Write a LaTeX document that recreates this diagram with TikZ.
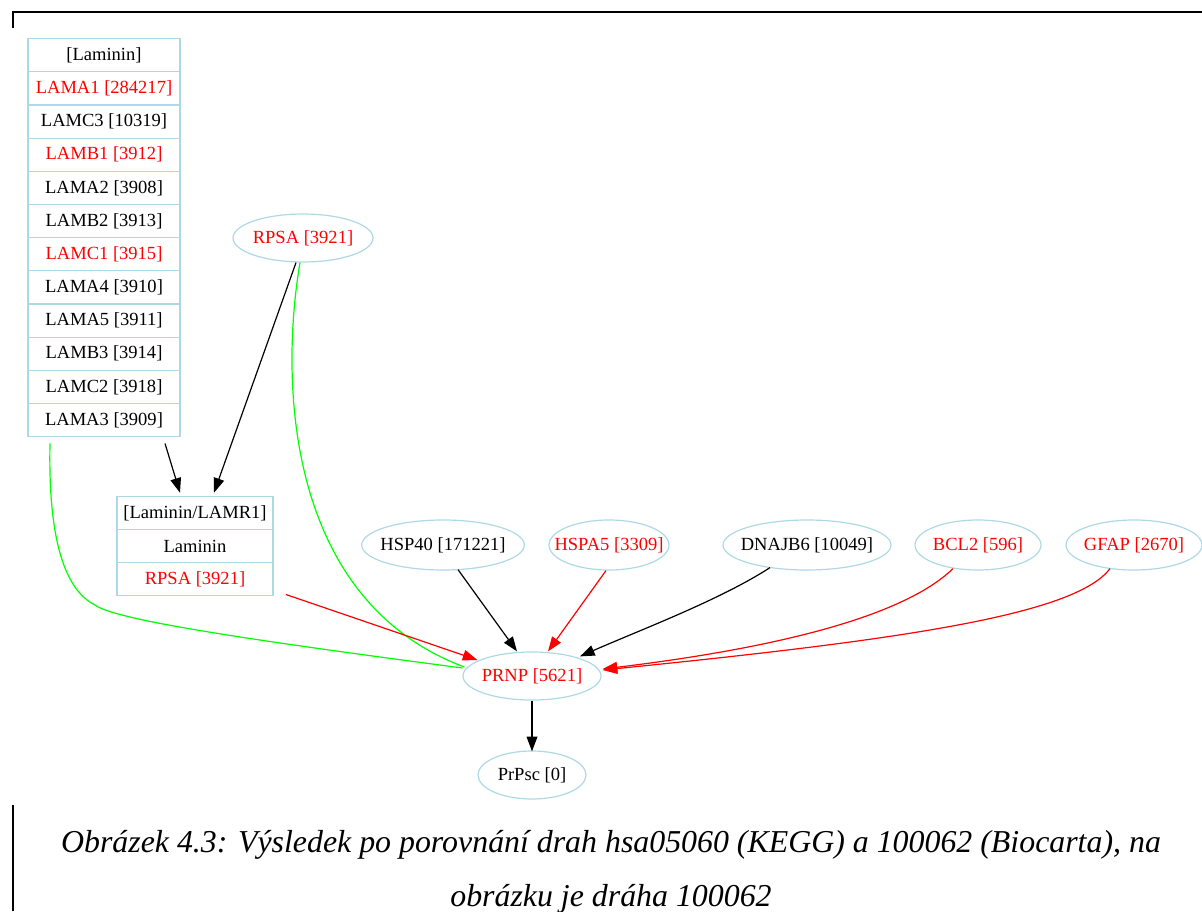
\documentclass[tikz,border=0pt]{standalone}
\usepackage{fontspec}
\setmainfont{Liberation Serif}
\usetikzlibrary{shapes.geometric,arrows.meta,calc,fit}
\definecolor{gvblue}{HTML}{ADD8E6}
\definecolor{gvred}{HTML}{FF0000}
\definecolor{gvgreen}{HTML}{00FF00}
% label box of zero width, so that an ellipse takes its size from its minimum dimensions only
\newcommand\glabel[1]{\makebox[0pt]{#1}}
\begin{document}
\begin{tikzpicture}[x=0.75pt,y=-0.75pt,
  lbl/.style={font=\fontsize{13.9}{16}\selectfont},
  gene/.style={ellipse, draw=gvblue, line width=0.9pt, inner sep=0pt, lbl},
  cell/.style={rectangle, draw=gvblue, line width=0.9pt, inner sep=0pt,
    minimum width=114pt, minimum height=24.875pt, anchor=north, lbl},
  rcell/.style={cell, minimum width=117pt, minimum height=24.75pt},
  hit/.style={text=gvred},
  link/.style={line width=0.9pt, -{Triangle[length=11pt,width=8pt]}},
  plain/.style={line width=0.9pt, gvgreen},
  frame/.style={line width=1.5pt, black},
  captext/.style={font=\fontsize{23.9}{28}\selectfont\itshape, anchor=base},
]
\useasboundingbox (0,0) rectangle (1202,911);

% page frame fragments
\draw[frame] (13,28) -- (13,12) -- (1202,12);
\draw[frame] (13,805) -- (13,911);

% laminin complex table
\foreach \t/\c [count=\i from 0] in {{[Laminin]}/black,LAMA1 [284217]/gvred,LAMC3 [10319]/black,LAMB1 [3912]/gvred,LAMA2 [3908]/black,LAMB2 [3913]/black,LAMC1 [3915]/gvred,LAMA4 [3910]/black,LAMA5 [3911]/black,LAMB3 [3914]/black,LAMC2 [3918]/black,LAMA3 [3909]/black}{
  \node[cell,text=\c] (lam\i) at (104,{38+33.1667*\i}) {\t};
}
\node[fit=(lam0)(lam11), inner sep=0pt] (lam) {};

% laminin/LAMR1 complex table
\node[rcell] (lamr0) at (195,496) {[Laminin/LAMR1]};
\node[rcell] (lamr1) at (195,529) {Laminin};
\node[rcell,hit] (lamr2) at (195,562) {RPSA [3921]};
\node[fit=(lamr0)(lamr2), inner sep=0pt] (lamr) {};

% gene nodes
\node[gene,hit,minimum width=105pt,minimum height=36pt] (rpsa) at (303,238) {\glabel{RPSA [3921]}};
\node[gene,minimum width=122pt,minimum height=37.5pt] (hsp40) at (443,545) {\glabel{HSP40 [171221]}};
\node[gene,hit,minimum width=90pt,minimum height=37.5pt] (hspa5) at (609,545) {\glabel{HSPA5 [3309]}};
\node[gene,minimum width=126pt,minimum height=37.5pt] (dnajb6) at (807,545) {\glabel{DNAJB6 [10049]}};
\node[gene,hit,minimum width=94.5pt,minimum height=37.5pt] (bcl2) at (978,545) {\glabel{BCL2 [596]}};
\node[gene,hit,minimum width=102pt,minimum height=37.5pt] (gfap) at (1134,545) {\glabel{GFAP [2670]}};
\node[gene,hit,minimum width=103.5pt,minimum height=36pt] (prnp) at (532,676) {\glabel{PRNP [5621]}};
\node[gene,minimum width=81pt,minimum height=36pt] (prpsc) at (532,775) {\glabel{PrPsc [0]}};

% connectors
\draw[link] ($(lam.south)+(61,6)$) -- ($(lamr.north)+(-15,-3)$);
\draw[link] ($(rpsa.south)+(-7,0)$) -- ($(lamr.north)+(19,-3)$);
\draw[plain] ($(rpsa.south)+(-3,0)$) .. controls (280,380) and (285,600) .. ($(prnp.west)+(2,-9)$);
\draw[plain] ($(lam.south)+(-54,6)$) .. controls (48,540) and (65,590) .. (95,605)
  .. controls (115,620) and (250,640) .. ($(prnp.west)+(0,-8)$);
\draw[link,gvred] ($(lamr.south east)+(12,-2)$) -- ($(prnp.west)+(15,-16)$);
\draw[link] ($(hsp40.south)+(15,-1)$) -- ($(prnp.north)+(-15,0)$);
\draw[link,gvred] ($(hspa5.south)+(-3,0)$) -- ($(prnp.north)+(16,0)$);
\draw[link] ($(dnajb6.south)+(-37,-3)$) .. controls (720,600) and (640,630) .. ($(prnp.north)+(48,5)$);
\draw[link,gvred] ($(bcl2.south)+(-25,-2)$) .. controls (900,620) and (760,650) .. ($(prnp.east)+(1,-7)$);
\draw[link,gvred] ($(gfap.south)+(-24,-2)$) .. controls (1075,615) and (900,640) .. ($(prnp.east)+(1,-6)$);
\draw[link] (prnp.south) -- ($(prpsc.north)+(0,1)$);

% caption
\node[captext] (cap1) at (611,852) {Obrázek 4.3: Výsledek po porovnání drah hsa05060 (KEGG) a 100062 (Biocarta), na};
\node[captext] (cap2) at (611,906) {obrázku je dráha 100062};
\end{tikzpicture}
\end{document}
